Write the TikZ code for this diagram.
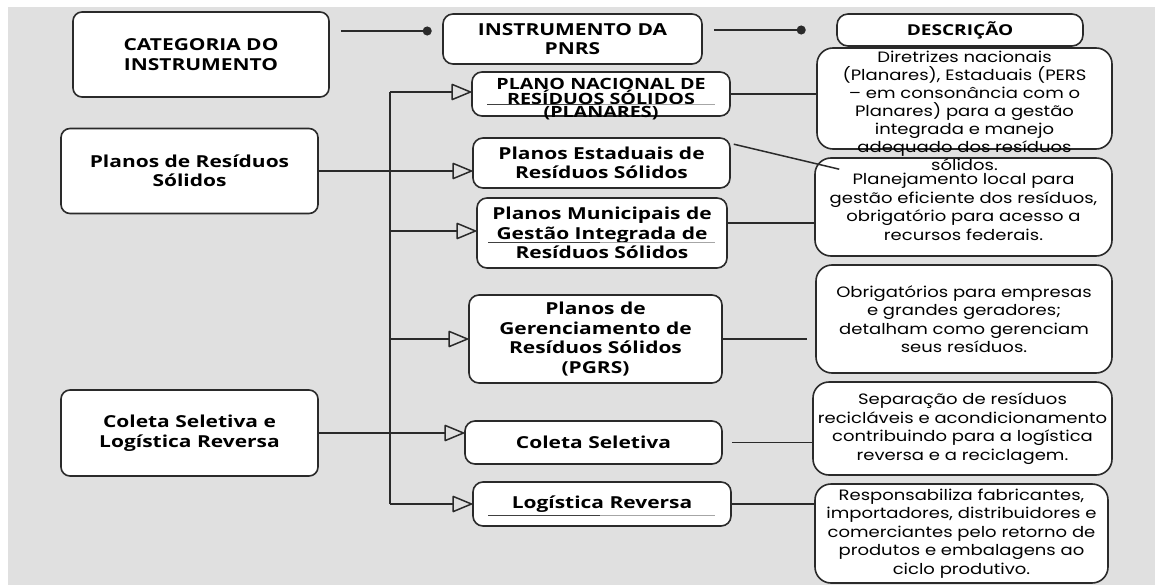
\documentclass[tikz,border=0pt]{standalone}
\usepackage{fontspec}
\usepackage{xcolor}
\usepackage{tikz}
\usetikzlibrary{positioning,arrows.meta}
\newfontfamily\boxfont{Open Sans}[FakeStretch=1.27]
\newfontfamily\descfont{Poppins}[FakeStretch=1.2]
\definecolor{bggray}{HTML}{E0E0E0}
\definecolor{edge}{HTML}{2A2A2A}

\begin{document}
\begin{tikzpicture}[x=1pt, y=-1pt,
  catnode/.style={rectangle, rounded corners=9pt, draw=edge, fill=white, line width=1.6pt, inner sep=0pt, align=center, font=\boxfont\bfseries\fontsize{16.5}{19.5}\selectfont},
  instnode/.style={catnode, rounded corners=10pt},
  descnode/.style={rectangle, rounded corners=16pt, draw=edge, fill=white, line width=1.6pt, inner sep=0pt, align=center, font=\descfont\fontsize{15}{18.5}\selectfont},
  link/.style={line width=1.5pt, draw=edge},
  >={Triangle[open, round, length=21pt, width=17pt]}]

\useasboundingbox (0,0) rectangle (1155,585);
\fill[bggray] (8,7) rectangle (1155,585);

\node[catnode, minimum width=256pt, minimum height=85pt] at (201, 54.5) (c1) {CATEGORIA DO\\INSTRUMENTO};
\node[catnode, minimum width=257pt, minimum height=85pt] at (189.5, 171) (c2) {Planos de Resíduos\\Sólidos};
\node[catnode, minimum width=257pt, minimum height=86pt] at (189.5, 433) (c3) {Coleta Seletiva e\\Logística Reversa};

\node[instnode, minimum width=259pt, minimum height=50pt] at (572.5, 39) (i0) {INSTRUMENTO DA\\PNRS};
\node[instnode, minimum width=258pt, minimum height=44pt] at (601, 94) (i1) {};
\node[instnode, minimum width=257pt, minimum height=50pt] at (601.5, 163) (i2) {Planos Estaduais de\\Resíduos Sólidos};
\node[instnode, minimum width=250pt, minimum height=70pt] at (602, 233) (i3) {Planos Municipais de\\Gestão Integrada de\\Resíduos Sólidos};
\node[instnode, minimum width=253pt, minimum height=88pt] at (595.5, 339) (i4) {Planos de\\Gerenciamento de\\Resíduos Sólidos\\(PGRS)};
\node[instnode, minimum width=257pt, minimum height=43pt] at (593.5, 442.5) (i5) {Coleta Seletiva};
\node[instnode, minimum width=258pt, minimum height=44pt] at (602, 504) (i6) {Logística Reversa};

\node[descnode, rounded corners=11pt, minimum width=246pt, minimum height=32pt, font=\boxfont\bfseries\fontsize{15}{17}\selectfont] at (960, 30) (d0) {DESCRIÇÃO};
\node[descnode, minimum width=295pt, minimum height=101pt] at (964.5, 98.5) (d1) {};
\node[descnode, minimum width=297pt, minimum height=98pt] at (963.5, 207) (d2) {Planejamento local para\\gestão eficiente dos resíduos,\\obrigatório para acesso a\\recursos federais.};
\node[descnode, minimum width=296pt, minimum height=108pt] at (964, 319) (d3) {Obrigatórios para empresas\\e grandes geradores;\\detalham como gerenciam\\seus resíduos.};
\node[descnode, minimum width=299pt, minimum height=93pt] at (962.5, 428.5) (d4) {Separação de resíduos\\recicláveis e acondicionamento\\contribuindo para a logística\\reversa e a reciclagem.};
\node[descnode, minimum width=293pt, minimum height=99pt] at (961.5, 533.5) (d5) {Responsabiliza fabricantes,\\importadores, distribuidores e\\comerciantes pelo retorno de\\produtos e embalagens ao\\ciclo produtivo.};

\node[align=center, inner sep=0pt, font=\boxfont\bfseries\fontsize{15.5}{13}\selectfont] at (601, 99) (i1t) {PLANO NACIONAL DE\\RESÍDUOS SÓLIDOS\\(PLANARES)};
\node[align=center, inner sep=0pt, font=\descfont\fontsize{15}{18}\selectfont] at (964.5, 111) (d1t) {Diretrizes nacionais\\(Planares), Estaduais (PERS\\– em consonância com o\\Planares) para a gestão\\integrada e manejo\\adequado dos resíduos\\sólidos.};

\draw[line width=1pt, black!75] (487,105) -- (600,105);
\draw[line width=1pt, black!35] (600,105) -- (715,105);
\draw[line width=1pt, black!75] (488,242) -- (600,242);
\draw[line width=1pt, black!35] (600,242) -- (715,242);
\draw[line width=1pt, black!75] (488,515) -- (600,515);
\draw[line width=1pt, black!35] (600,515) -- (715,515);

\draw[link, -{Circle[length=9pt]}, shorten <=11pt, shorten >=10.5pt] (c1.east |- 0,31) -- (i0.west |- 0,31);
\draw[link, -{Circle[length=9pt]}, shorten <=11pt, shorten >=30.5pt] (i0.east |- 0,30) -- (d0.west |- 0,30);

\coordinate (bt) at (390, 92);
\coordinate (bb) at (390, 504);
\draw[link] (bt) -- (bb);
\draw[link, ->] (bt) -- (i1.west |- bt);
\draw[link, ->] (c2.east) -- (i2.west |- c2.east);
\draw[link, ->] (bt |- 0,231) -- (i3.west |- 0,231);
\draw[link, ->] (bt |- i4.west) -- (i4.west);
\draw[link, ->] (c3.east) -- (i5.west |- c3.east);
\draw[link, ->] (bb) -- (i6.west);

\draw[link] (i1.east) -- (d1.west |- i1.east);
\draw[link] ([xshift=3pt, yshift=-7pt]i2.north east) -- ([xshift=25pt, yshift=-12pt]d2.north west);
\draw[link] (i3.east |- 0,223) -- (d2.west |- 0,223);
\draw[link, shorten >=8pt] (i4.east) -- (d3.west |- i4.east);
\draw[link] ([xshift=9pt]i5.east) -- (d4.west |- i5.east);
\draw[link] (i6.east) -- (d5.west |- i6.east);

\end{tikzpicture}
\end{document}
